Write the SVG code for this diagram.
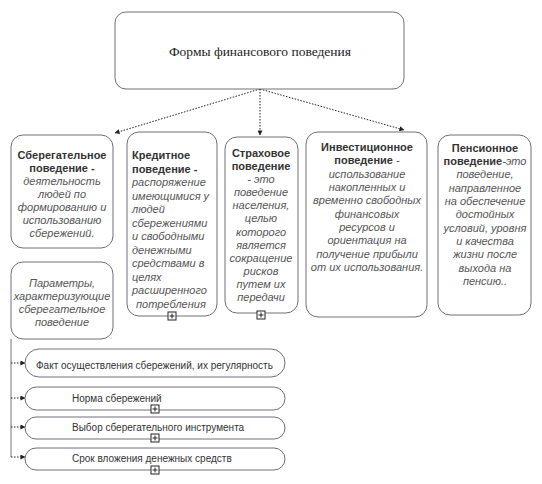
<svg xmlns="http://www.w3.org/2000/svg" width="542" height="484" viewBox="0 0 542 484">
<style>
.box{fill:#fff;stroke:#6e6e7a;stroke-width:1}
.t{font-family:"Liberation Sans",Arial,sans-serif;font-size:11px}
.b{font-weight:bold;fill:#333}
.i{font-style:italic;fill:#555}
.c{text-anchor:middle}
.bar{font-family:"Liberation Sans",Arial,sans-serif;font-size:10px;fill:#333}
.title{font-family:"Liberation Serif","Times New Roman",serif;font-size:13.5px;fill:#222;text-anchor:middle}
.con{fill:none;stroke:#222;stroke-width:1;stroke-dasharray:1.5 1.5}
.vl{fill:none;stroke:#777;stroke-width:1}
.pb{fill:#fff;stroke:#222;stroke-width:1}
.pl{fill:none;stroke:#222;stroke-width:1}
</style>
<defs>
<marker id="ah" viewBox="0 0 6 6" refX="5.5" refY="3" markerWidth="5" markerHeight="5" orient="auto" markerUnits="userSpaceOnUse">
<path d="M0,0 L6,3 L0,6 z" fill="#222"/>
</marker>
<g id="plus">
<rect class="pb" x="-4" y="-4" width="8" height="8"/>
<path class="pl" d="M-2.5,0 H2.5 M0,-2.5 V2.5"/>
</g>
</defs>
<g id="connectors">
<path class="con" d="M260,89 L115,133" marker-end="url(#ah)"/>
<path class="con" d="M260,89 L260,135" marker-end="url(#ah)"/>
<path class="con" d="M260,89 L404,130" marker-end="url(#ah)"/>
<path class="vl" d="M11,339 V457"/>
<path class="con" d="M11,363 H25" marker-end="url(#ah)"/>
<path class="con" d="M11,398 H25" marker-end="url(#ah)"/>
<path class="con" d="M11,427 H25" marker-end="url(#ah)"/>
<path class="con" d="M11,457 H25" marker-end="url(#ah)"/>
</g>
<g id="root">
<rect class="box" x="115" y="12" width="289" height="77" rx="11"/>
<text class="title" x="260" y="56">Формы финансового поведения</text>
</g>
<g id="sberegatelnoe">
<rect class="box" x="11" y="135" width="102" height="113" rx="12"/>
<text class="t c" x="62"><tspan class="b" x="62" y="159">Сберегательное</tspan><tspan class="b" x="62" y="172">поведение -</tspan><tspan class="i" x="62" y="185">деятельность</tspan><tspan class="i" x="62" y="198">людей по</tspan><tspan class="i" x="62" y="211">формированию и</tspan><tspan class="i" x="62" y="224">использованию</tspan><tspan class="i" x="62" y="237">сбережений.</tspan></text>
</g>
<g id="kreditnoe">
<rect class="box" x="127" y="132" width="90" height="184" rx="12"/>
<text class="t"><tspan class="b" x="132" y="159">Кредитное</tspan><tspan class="b" x="132" y="172.5">поведение -</tspan><tspan class="i" x="132" y="186">распоряжение</tspan><tspan class="i" x="132" y="199.5">имеющимися у</tspan><tspan class="i" x="132" y="213">людей</tspan><tspan class="i" x="132" y="226.5">сбережениями</tspan><tspan class="i" x="132" y="240">и свободными</tspan><tspan class="i" x="132" y="253.5">денежными</tspan><tspan class="i" x="132" y="267">средствами в</tspan><tspan class="i" x="132" y="280.5">целях</tspan><tspan class="i" x="132" y="294">расширенного</tspan><tspan class="i" x="136" y="307.5">потребления</tspan></text>
<use href="#plus" x="172" y="316"/>
</g>
<g id="strakhovoe">
<rect class="box" x="225" y="137" width="73" height="176" rx="12"/>
<text class="t c"><tspan class="b" x="261" y="157">Страховое</tspan><tspan class="b" x="261" y="170">поведение</tspan><tspan class="i" x="261" y="183">- это</tspan><tspan class="i" x="261" y="196">поведение</tspan><tspan class="i" x="261" y="209">населения,</tspan><tspan class="i" x="261" y="222">целью</tspan><tspan class="i" x="261" y="236">которого</tspan><tspan class="i" x="261" y="249">является</tspan><tspan class="i" x="261" y="262">сокращение</tspan><tspan class="i" x="261" y="275">рисков</tspan><tspan class="i" x="261" y="288">путем их</tspan><tspan class="i" x="261" y="301">передачи</tspan></text>
<use href="#plus" x="261" y="315"/>
</g>
<g id="investitsionnoe">
<rect class="box" x="306" y="132" width="121" height="185" rx="12"/>
<text class="t c"><tspan class="b" x="367" y="151">Инвестиционное</tspan><tspan x="367" y="164"><tspan class="b">поведение</tspan><tspan class="i"> -</tspan></tspan><tspan class="i" x="367" y="178">использование</tspan><tspan class="i" x="367" y="191">накопленных и</tspan><tspan class="i" x="367" y="204">временно свободных</tspan><tspan class="i" x="367" y="218">финансовых</tspan><tspan class="i" x="367" y="231">ресурсов и</tspan><tspan class="i" x="367" y="244">ориентация на</tspan><tspan class="i" x="367" y="258">получение прибыли</tspan><tspan class="i" x="367" y="271">от их использования.</tspan></text>
</g>
<g id="pensionnoe">
<rect class="box" x="438" y="135" width="93" height="180" rx="12"/>
<text class="t c"><tspan class="b" x="485" y="152">Пенсионное</tspan><tspan x="485" y="165"><tspan class="b">поведение</tspan><tspan class="i">-это</tspan></tspan><tspan class="i" x="485" y="178">поведение,</tspan><tspan class="i" x="485" y="192">направленное</tspan><tspan class="i" x="485" y="205">на обеспечение</tspan><tspan class="i" x="485" y="218">достойных</tspan><tspan class="i" x="485" y="232">условий, уровня</tspan><tspan class="i" x="485" y="245">и качества</tspan><tspan class="i" x="485" y="258">жизни после</tspan><tspan class="i" x="485" y="272">выхода на</tspan><tspan class="i" x="485" y="285">пенсию..</tspan></text>
</g>
<g id="parametry">
<rect class="box" x="11" y="262" width="102" height="77" rx="12"/>
<text class="t c i"><tspan x="62" y="287">Параметры,</tspan><tspan x="62" y="300">характеризующие</tspan><tspan x="62" y="313">сберегательное</tspan><tspan x="62" y="326">поведение</tspan></text>
</g>
<g id="fakt">
<rect class="box" x="25" y="349" width="260" height="28" rx="14"/>
<text class="bar" x="36" y="369">Факт осуществления сбережений, их регулярность</text>
</g>
<g id="norma">
<rect class="box" x="25" y="387" width="260" height="23" rx="11.5"/>
<text class="bar" x="72" y="402">Норма сбережений</text>
<use href="#plus" x="155" y="409"/>
</g>
<g id="vybor">
<rect class="box" x="25" y="417" width="260" height="22" rx="11"/>
<text class="bar" x="72" y="431">Выбор сберегательного инструмента</text>
<use href="#plus" x="155" y="438"/>
</g>
<g id="srok">
<rect class="box" x="25" y="448" width="260" height="22" rx="11"/>
<text class="bar" x="72" y="462">Срок вложения денежных средств</text>
<use href="#plus" x="155" y="470"/>
</g>
</svg>
